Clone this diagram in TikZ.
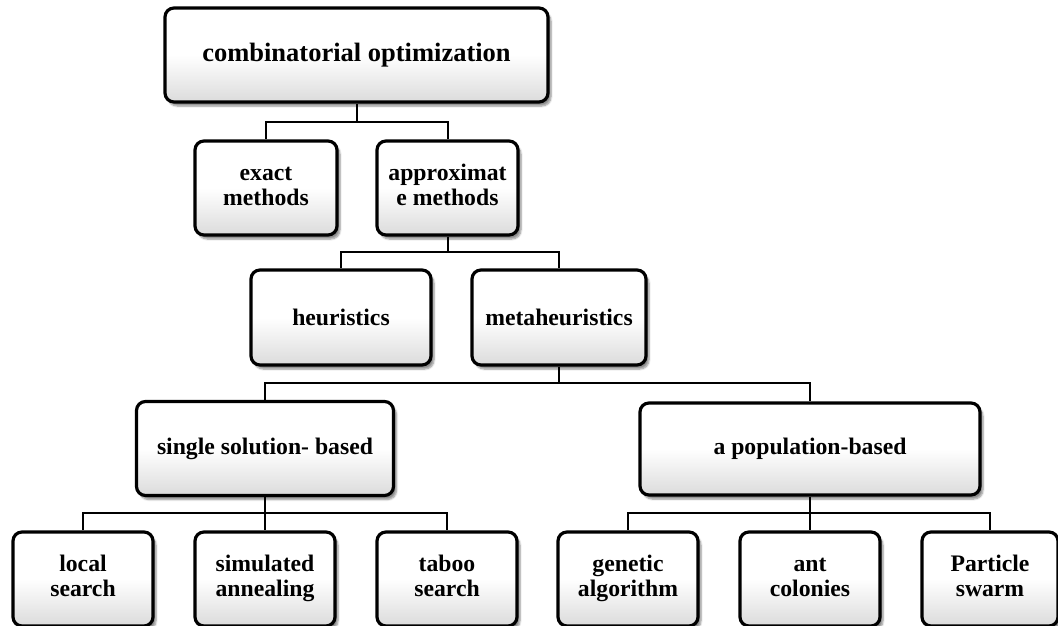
\documentclass[tikz,border=0pt]{standalone}
\usepackage{fontspec}
\setmainfont{Liberation Serif}
\usetikzlibrary{shadows.blur}
\begin{document}
\begin{tikzpicture}[x=1pt,y=-1pt,
  box/.style={draw=black, line width=3.2pt, rounded corners=9pt,
    top color=white, bottom color=black!14, middle color=white,
    blur shadow={shadow xshift=3pt, shadow yshift=-4pt, shadow blur steps=6, shadow opacity=45},
    align=center, inner sep=0pt, font=\bfseries\fontsize{23.7}{24.5}\selectfont},
  link/.style={draw=black, line width=2pt}]
\useasboundingbox (0,0) rectangle (1058,626);
% level 1
\node[box, minimum width=383pt, minimum height=94pt, font=\bfseries\fontsize{26.5}{28}\selectfont] (top) at (356.5,55) {\raisebox{-5pt}{combinatorial optimization}};
% level 2
\node[box, minimum width=142pt, minimum height=94pt] (exact) at (266,188) {\strut exact\\\strut methods};
\node[box, minimum width=141pt, minimum height=94pt] (approx) at (447.5,188) {\strut approximat\\\strut e methods};
% level 3
\node[box, minimum width=180pt, minimum height=95pt] (heur) at (341,317.5) {heuristics};
\node[box, minimum width=174pt, minimum height=95pt] (meta) at (559,317.5) {metaheuristics};
% level 4
\node[box, minimum width=257pt, minimum height=94pt] (single) at (265,448.5) {single solution- based};
\node[box, minimum width=340pt, minimum height=92pt] (pop) at (810,449) {a population-based};
% level 5
\node[box, minimum width=140pt, minimum height=94pt] (local) at (83,579) {\strut local\\\strut search};
\node[box, minimum width=140pt, minimum height=94pt] (sim) at (265,579) {\strut simulated\\\strut annealing};
\node[box, minimum width=140pt, minimum height=94pt] (taboo) at (447,579) {\strut taboo\\\strut search};
\node[box, minimum width=140pt, minimum height=94pt] (gen) at (628,579) {\strut genetic\\\strut algorithm};
\node[box, minimum width=140pt, minimum height=94pt] (ant) at (810,579) {\strut ant\\\strut colonies};
\node[box, minimum width=136pt, minimum height=94pt] (part) at (990,579) {\strut Particle\\\strut swarm};
% connectors
\draw[link] (top.south) -- (top.south |- 0,122) -| (exact.north);
\draw[link] (top.south |- 0,122) -| (approx.north);
\draw[link] (approx.south) -- (approx.south |- 0,252) -| (heur.north);
\draw[link] (approx.south |- 0,252) -| (meta.north);
\draw[link] (meta.south) -- (meta.south |- 0,383) -| (single.north);
\draw[link] (meta.south |- 0,383) -| (pop.north);
\draw[link] (single.south) -- (sim.north);
\draw[link] (single.south |- 0,513) -| (local.north);
\draw[link] (single.south |- 0,513) -| (taboo.north);
\draw[link] (pop.south) -- (ant.north);
\draw[link] (pop.south |- 0,513) -| (gen.north);
\draw[link] (pop.south |- 0,513) -| (part.north);
\end{tikzpicture}
\end{document}
